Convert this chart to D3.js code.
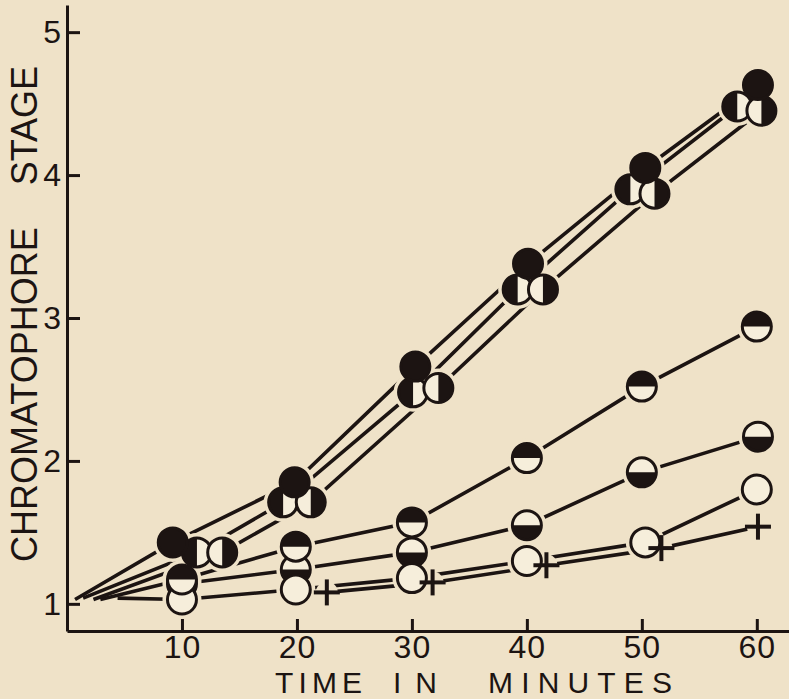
<!DOCTYPE html>
<html>
<head>
<meta charset="utf-8">
<script src="https://cdn.jsdelivr.net/npm/d3@7"></script>
<style>
  html, body { margin: 0; padding: 0; background: #efe2c8; }
  svg { display: block; }
  text { font-family: "Liberation Sans", Arial, sans-serif; fill: #1c1412; }
</style>
</head>
<body>
<svg id="chart" width="789" height="699"></svg>
<script>
// ---------- data ----------
const xTickValues = [10, 20, 30, 40, 50, 60];
const yTickValues = [1, 2, 3, 4, 5];
const xTitleWords = ["TIME", "IN", "MINUTES"];
const yTitle = "CHROMATOPHORE STAGE";

// marker kinds: full black, left half black, right half black,
// top half black, bottom half black, open circle, plus
const seriesNames = ["bottomHalf", "open", "topHalf", "plus", "leftHalf", "rightHalf", "full"];

const fullTime      = [9.2, 19.8, 30.3, 40.1, 50.3, 60.1];
const fullStage     = [1.43, 1.85, 2.66, 3.38, 4.05, 4.63];

const leftHalfTime  = [11.3, 18.8, 30.1, 39.2, 49.0, 58.3];
const leftHalfStage = [1.36, 1.71, 2.48, 3.20, 3.90, 4.48];

const rightHalfTime  = [13.5, 21.2, 32.3, 41.4, 51.1, 60.4];
const rightHalfStage = [1.36, 1.71, 2.51, 3.20, 3.87, 4.45];

const topHalfTime   = [10, 19.9, 30, 40, 50, 60];
const topHalfStage  = [1.17, 1.40, 1.57, 2.02, 2.52, 2.94];

const bottomHalfTime  = [10, 19.9, 30, 40, 50, 60.1];
const bottomHalfStage = [1.14, 1.24, 1.36, 1.55, 1.92, 2.17];

const openTime      = [10, 19.9, 30, 40, 50.3, 60];
const openStage     = [1.03, 1.10, 1.18, 1.30, 1.43, 1.80];

const plusTime      = [22.6, 31.8, 41.7, 51.7, 60.1];
const plusStage     = [1.08, 1.15, 1.27, 1.39, 1.54];

// where the lines leave the origin region (time, stage)
const lineStartTime  = { full: 0.7, leftHalf: 1.4, rightHalf: 2.3, topHalf: 2.9, open: 4.4 };
const lineStartStage = { full: 1.03, leftHalf: 1.04, rightHalf: 1.03, topHalf: 1.03, open: 1.04 };

const seriesData = {
  full:       { t: fullTime,       v: fullStage },
  leftHalf:   { t: leftHalfTime,   v: leftHalfStage },
  rightHalf:  { t: rightHalfTime,  v: rightHalfStage },
  topHalf:    { t: topHalfTime,    v: topHalfStage },
  bottomHalf: { t: bottomHalfTime, v: bottomHalfStage },
  open:       { t: openTime,       v: openStage },
  plus:       { t: plusTime,       v: plusStage }
};

// ---------- drawing ----------
const INK = "#1c1412";
const BG = "#efe2c8";
const PAPER = "#f6eedb";
const R = 14.5;

const svg = d3.select("#chart");
svg.append("rect").attr("width", 789).attr("height", 699).attr("fill", BG);

const x = d3.scaleLinear().domain([0, 62.8]).range([67, 789]);
const y = d3.scaleLinear().domain([0.81, 5.19]).range([631, 5]);

// axes
const gx = svg.append("g")
  .attr("transform", `translate(0,${y(0.81)})`)
  .call(d3.axisBottom(x).tickValues(xTickValues).tickFormat(d3.format("d"))
        .tickSizeInner(-12).tickSizeOuter(0).tickPadding(4));
const gy = svg.append("g")
  .attr("transform", `translate(${x(0)},0)`)
  .call(d3.axisLeft(y).tickValues(yTickValues).tickFormat(d3.format("d"))
        .tickSizeInner(-13).tickSizeOuter(0).tickPadding(6));

[gx, gy].forEach(g => {
  g.select(".domain").attr("stroke", INK).attr("stroke-width", 3);
  g.selectAll(".tick line").attr("stroke", INK).attr("stroke-width", 3);
  g.selectAll("text").attr("fill", INK).style("font-family", '"Liberation Sans", Arial, sans-serif');
});
gx.selectAll("text").attr("font-size", 32).style("letter-spacing", "1px");
gy.selectAll("text").attr("font-size", 32);

// x axis title (three spaced words)
const xTitleStart = [275, 393, 488];
const xTitleLen = [87, 44, 184];
const xt = svg.append("text")
  .attr("y", 692.5)
  .attr("font-size", 30);
xTitleWords.forEach((w, i) => {
  xt.append("tspan")
    .attr("x", xTitleStart[i])
    .attr("textLength", xTitleLen[i])
    .attr("lengthAdjust", "spacing")
    .text(w);
});

svg.append("text")
  .attr("transform", "translate(37,314) rotate(-90)")
  .attr("text-anchor", "middle")
  .attr("font-size", 36)
  .style("word-spacing", "32px")
  .text(yTitle);

// build point lists
const pts = {};
seriesNames.forEach(name => {
  const s = seriesData[name];
  pts[name] = s.t.map((t, i) => ({ t: t, v: s.v[i], kind: name }));
});

// lines
const lineGen = d3.line().x(d => x(d.t)).y(d => y(d.v));
const gLines = svg.append("g");
seriesNames.forEach(name => {
  let list = pts[name].slice();
  if (lineStartTime[name] !== undefined) {
    list = [{ t: lineStartTime[name], v: lineStartStage[name] }].concat(list);
  }
  gLines.append("path")
    .attr("d", lineGen(list))
    .attr("fill", "none")
    .attr("stroke", INK)
    .attr("stroke-width", 3.6);
});

// halos (gaps in lines around markers)
const gHalo = svg.append("g");
seriesNames.forEach(name => {
  gHalo.selectAll(null).data(pts[name]).enter().append("circle")
    .attr("cx", d => x(d.t)).attr("cy", d => y(d.v))
    .attr("r", name === "plus" ? 11 : 19.5)
    .attr("fill", BG);
});

// markers
const arc = d3.arc().innerRadius(0).outerRadius(R);
const halfAngles = {
  leftHalf:   [Math.PI, 2 * Math.PI],
  rightHalf:  [0, Math.PI],
  topHalf:    [-Math.PI / 2, Math.PI / 2],
  bottomHalf: [Math.PI / 2, 3 * Math.PI / 2]
};
const gMarks = svg.append("g");
seriesNames.forEach(name => {
  pts[name].forEach(d => {
    const g = gMarks.append("g").attr("transform", `translate(${x(d.t)},${y(d.v)})`);
    if (name === "plus") {
      g.append("line").attr("x1", -13).attr("x2", 13).attr("y1", 0).attr("y2", 0)
        .attr("stroke", INK).attr("stroke-width", 4);
      g.append("line").attr("x1", 0).attr("x2", 0).attr("y1", -13).attr("y2", 13)
        .attr("stroke", INK).attr("stroke-width", 4);
      return;
    }
    g.append("circle").attr("r", R).attr("fill", name === "full" ? INK : PAPER);
    if (halfAngles[name]) {
      const a = halfAngles[name];
      g.append("path").attr("d", arc({ startAngle: a[0], endAngle: a[1] })).attr("fill", INK);
    }
    g.append("circle").attr("r", R).attr("fill", "none").attr("stroke", INK).attr("stroke-width", 3);
  });
});
</script>
</body>
</html>
